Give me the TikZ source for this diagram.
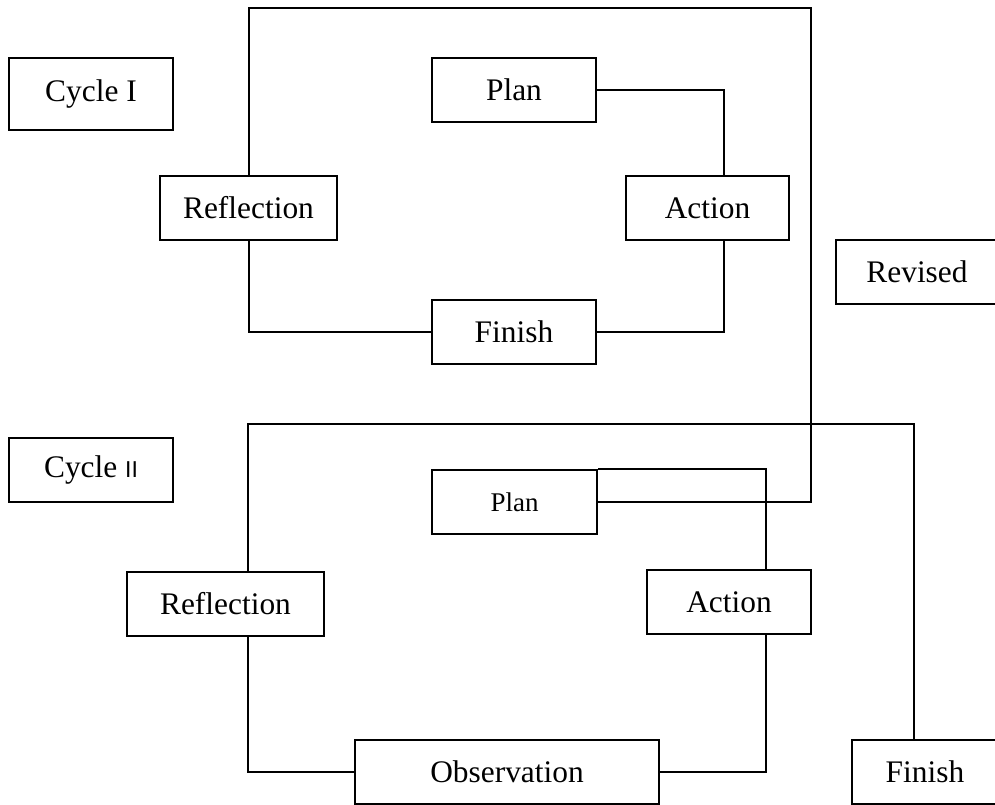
\documentclass[tikz,border=0pt]{standalone}
\usepackage{fontspec}
\setmainfont{Liberation Serif}
\newfontfamily\romanII{Liberation Sans}
\usepackage{tikz}
\tikzset{box/.style={draw,line width=1pt,inner sep=0pt,minimum height=32pt,font=\fontsize{15.7}{18}\selectfont},
  link/.style={line width=1pt}}

\begin{document}
\begin{tikzpicture}[x=0.5pt,y=-0.5pt]
\useasboundingbox (0,0) rectangle (995,804);
% CYCLE I BOXES
\node [box,minimum width=82pt,minimum height=36pt] (cycI) at (91,94) {Cycle I};
\node [box,minimum width=88.5pt] (refI) at (248.5,208) {Reflection};
\node [box,minimum width=82pt] (planI) at (514,90) {Plan};
\node [box,minimum width=81.5pt] (actI) at (707.5,208) {Action};
\node [box,minimum width=82pt] (finI) at (514,332) {Finish};
% REVISED
\node [box,minimum width=81pt] (revised) at (917,272) {Revised};
% CYCLE II BOXES
\node [box,minimum width=82pt] (cycII) at (91,470) {Cycle {\romanII\fontsize{11.5}{12}\selectfont II}};
\node [box,minimum width=82.5pt,font=\fontsize{13.5}{16}\selectfont] (planII) at (514.5,502) {Plan};
\node [box,minimum width=98.5pt] (refII) at (225.5,604) {Reflection};
\node [box,minimum width=82pt] (actII) at (729,602) {Action};
\node [box,minimum width=152pt] (obsII) at (507,772) {Observation};
\node [box,minimum width=73pt] (finII) at (925,772) {Finish};
% CYCLE I LINKS
\draw [link] (planI.east) -| ([xshift=8pt]actI.north);
\draw [link] ([xshift=8pt]actI.south) |- (finI.east);
\draw [link] (refI.south) |- (finI.west);
% REFLECTION I BACK TO PLAN II
\coordinate (topR) at (811,8);
\draw [link] (refI.north) |- (topR) |- (planII.east);
% CYCLE II LINKS
\draw [link] (planII.north east) -| ([xshift=18.5pt]actII.north);
\draw [link] ([xshift=18.5pt]actII.south) |- (obsII.east);
\draw [link] ([xshift=11.25pt]refII.south) |- (obsII.west);
% REFLECTION II TO FINISH
\coordinate (loopII) at (914,424);
\draw [link] ([xshift=11.25pt]refII.north) |- (loopII) -- (loopII |- finII.north);
\end{tikzpicture}
\end{document}
